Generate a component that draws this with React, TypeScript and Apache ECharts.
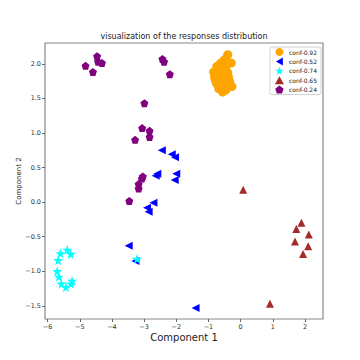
import React, { useEffect, useRef } from "react";
import * as echarts from "echarts";

const seriesNames = ["conf-0.92", "conf-0.52", "conf-0.74", "conf-0.65", "conf-0.24"];
const seriesColors = ["#FFA500", "#0000FF", "#00FFFF", "#A52A2A", "#800080"];

const conf092: [number, number][] = [
  [-0.40, 2.13], [-0.50, 2.06], [-0.29, 2.01], [-0.62, 2.01], [-0.74, 1.96],
  [-0.53, 1.94], [-0.84, 1.88], [-0.62, 1.85], [-0.40, 1.87], [-0.81, 1.80],
  [-0.56, 1.77], [-0.37, 1.80], [-0.34, 1.74], [-0.74, 1.71], [-0.53, 1.68],
  [-0.68, 1.64], [-0.56, 1.59], [-0.27, 1.67], [-0.46, 1.62], [-0.71, 1.83],
  [-0.65, 1.91], [-0.45, 1.97], [-0.58, 1.72], [-0.78, 1.75], [-0.48, 1.83],
];
const conf052: [number, number][] = [
  [-2.45, 0.75], [-2.14, 0.69], [-2.04, 0.65], [-2.59, 0.41], [-2.64, 0.38],
  [-2.00, 0.41], [-2.05, 0.32], [-2.71, -0.01], [-2.91, -0.08], [-2.86, -0.14],
  [-3.48, -0.63], [-3.27, -0.85], [-1.40, -1.53],
];
const conf074: [number, number][] = [
  [-5.60, -0.74], [-5.39, -0.69], [-5.28, -0.75], [-5.67, -0.84], [-5.70, -1.00],
  [-5.65, -1.08], [-5.57, -1.18], [-5.43, -1.23], [-5.24, -1.14], [-5.27, -1.18],
  [-3.22, -0.82],
];
const conf065: [number, number][] = [
  [0.08, 0.18], [1.89, -0.30], [1.73, -0.39], [2.12, -0.47], [1.69, -0.57],
  [2.10, -0.64], [1.94, -0.75], [0.91, -1.47],
];
const conf024: [number, number][] = [
  [-4.82, 1.97], [-4.59, 1.88], [-4.46, 2.11], [-4.43, 2.03], [-4.31, 2.01],
  [-2.43, 2.07], [-2.38, 2.03], [-2.20, 1.85], [-2.99, 1.43], [-3.06, 1.07],
  [-2.83, 1.03], [-2.83, 0.94], [-3.28, 0.90], [-3.04, 0.37], [-3.07, 0.34],
  [-3.17, 0.26], [-3.17, 0.195], [-3.46, 0.016],
];

const xTicks = [-6, -5, -4, -3, -2, -1, 0, 1, 2];
const yTicks = [-1.5, -1.0, -0.5, 0.0, 0.5, 1.0, 1.5, 2.0];

const symbols = [
  "circle",
  "path://M0,50 L86.6,0 L86.6,100 Z",
  "path://M50,0 L61.8,35.3 L98.1,35.3 L68.8,57.1 L79.4,91.9 L50,70.6 L20.6,91.9 L31.2,57.1 L1.9,35.3 L38.2,35.3 Z",
  "triangle",
  "path://M50,0 L97.6,34.5 L79.4,90.5 L20.6,90.5 L2.4,34.5 Z",
];
const sizes = [9, 8, 10, 8, 8];
const allData = [conf092, conf052, conf074, conf065, conf024];

const fmt = (v: number, d: number) => (v < 0 ? "\u2212" + Math.abs(v).toFixed(d) : v.toFixed(d));

export default function App() {
  const ref = useRef<HTMLDivElement>(null);
  useEffect(() => {
    if (!ref.current) return;
    const chart = echarts.init(ref.current, null, { renderer: "svg" });
    const font = "DejaVu Sans";
    chart.setOption({
      animation: false,
      backgroundColor: "#ffffff",
      textStyle: { fontFamily: font },
      title: {
        text: "visualization of the responses distribution",
        left: 184,
        textAlign: "center",
        top: 32,
        padding: 0,
        textStyle: { fontFamily: font, fontSize: 8, fontWeight: "normal", color: "#222" },
      },
      legend: {
        orient: "vertical",
        right: 39,
        top: 47,
        padding: [1, 4, 1, 5],
        itemWidth: 9,
        itemHeight: 8,
        itemGap: 1.4,
        backgroundColor: "#fff",
        borderColor: "#d0d0d0",
        borderWidth: 1,
        borderRadius: 2,
        textStyle: { fontFamily: font, fontSize: 6, color: "#222" },
        data: seriesNames.map((n, i) => ({ name: n, icon: symbols[i] })),
      },
      grid: {
        left: 45,
        right: 37,
        top: 43,
        bottom: 41,
        show: true,
        borderColor: "#888",
        borderWidth: 1.2,
        backgroundColor: "#fff",
      },
      xAxis: {
        type: "value",
        min: -6.08,
        max: 2.56,
        name: "Component 1",
        nameLocation: "middle",
        nameGap: 13,
        nameMoveOverlap: false,
        nameTextStyle: { fontFamily: font, fontSize: 10, color: "#222" },
        axisLine: { show: false, onZero: false },
        splitLine: { show: false },
        axisTick: { show: true, length: 3, lineStyle: { color: "#666" }, customValues: xTicks },
        axisLabel: {
          fontFamily: font,
          fontSize: 6.5,
          color: "#333",
          margin: 4,
          customValues: xTicks,
          formatter: (v: number) => fmt(v, 0),
        },
      },
      yAxis: {
        type: "value",
        min: -1.69,
        max: 2.3,
        name: "Component 2",
        nameLocation: "middle",
        nameGap: 23,
        nameMoveOverlap: false,
        nameTextStyle: { fontFamily: font, fontSize: 7, color: "#222" },
        axisLine: { show: false, onZero: false },
        splitLine: { show: false },
        axisTick: { show: true, length: 3, lineStyle: { color: "#666" }, customValues: yTicks },
        axisLabel: {
          fontFamily: font,
          fontSize: 6.5,
          color: "#333",
          margin: 4,
          customValues: yTicks,
          formatter: (v: number) => fmt(v, 1),
        },
      },
      series: allData.map((d, i) => ({
        type: "scatter",
        name: seriesNames[i],
        data: d,
        symbol: symbols[i],
        symbolSize: sizes[i],
        itemStyle: { color: seriesColors[i], opacity: 1 },
        emphasis: { disabled: true },
      })),
    });
    return () => chart.dispose();
  }, []);
  return (
    <div
      ref={ref}
      style={{ position: "fixed", left: 0, top: 0, width: 360, height: 360 }}
    />
  );
}
